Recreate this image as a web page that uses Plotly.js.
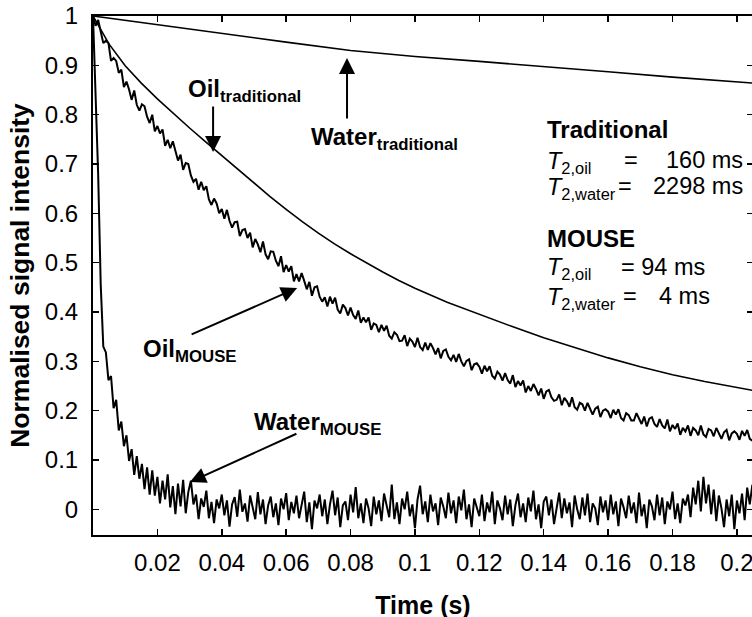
<!DOCTYPE html>
<html><head><meta charset="utf-8">
<script src="https://cdn.plot.ly/plotly-3.0.1.min.js"></script>
<style>html,body{margin:0;padding:0;overflow:hidden;background:#fff}#chart{width:754px;height:619px}</style>
</head><body><div id="chart"></div>
<script>
// ---- axis ticks ----
const xTicks = [0, 0.02, 0.04, 0.06, 0.08, 0.1, 0.12, 0.14, 0.16, 0.18, 0.2];
const xTickLabels = ['', '0.02', '0.04', '0.06', '0.08', '0.1', '0.12', '0.14', '0.16', '0.18', '0.2'];
const yTicks = [0, 0.1, 0.2, 0.3, 0.4, 0.5, 0.6, 0.7, 0.8, 0.9, 1];
const yTickLabels = ['0', '0.1', '0.2', '0.3', '0.4', '0.5', '0.6', '0.7', '0.8', '0.9', '1'];

// ---- traditional (smooth) decays ----
const waterTradTime = [0, 0.02, 0.04, 0.06, 0.08, 0.10, 0.12, 0.14, 0.16, 0.18, 0.20, 0.205];
const waterTraditional = [1.0, 0.982, 0.964, 0.947, 0.930, 0.918, 0.908, 0.898, 0.887, 0.876, 0.867, 0.864];
const oilTradTime = [0, 0.005, 0.01, 0.015, 0.02, 0.025, 0.03, 0.035, 0.04, 0.045, 0.05, 0.055, 0.06, 0.065, 0.07, 0.075, 0.08, 0.085, 0.09, 0.095, 0.10, 0.11, 0.12, 0.13, 0.14, 0.15, 0.16, 0.17, 0.18, 0.19, 0.20, 0.205];
const oilTraditional = [1.0, 0.943, 0.899, 0.864, 0.832, 0.802, 0.773, 0.745, 0.717, 0.689, 0.661, 0.634, 0.608, 0.583, 0.560, 0.538, 0.518, 0.499, 0.481, 0.464, 0.448, 0.420, 0.395, 0.371, 0.348, 0.327, 0.307, 0.289, 0.273, 0.259, 0.247, 0.241];

// ---- MOUSE (noisy) decays, sampled every echoStep seconds ----
const echoStep = 0.0008;
const oilMouse = [
1.000, 0.980, 0.992, 0.965, 0.945, 0.950, 0.945, 0.909, 0.915, 0.909,
0.885, 0.891, 0.856, 0.867, 0.851, 0.830, 0.849, 0.820, 0.808, 0.821,
0.817, 0.796, 0.783, 0.800, 0.766, 0.777, 0.762, 0.770, 0.737, 0.749,
0.732, 0.746, 0.727, 0.707, 0.719, 0.688, 0.702, 0.700, 0.677, 0.664,
0.670, 0.648, 0.664, 0.647, 0.655, 0.628, 0.617, 0.630, 0.620, 0.600,
0.609, 0.589, 0.607, 0.585, 0.571, 0.582, 0.583, 0.554, 0.566, 0.568,
0.550, 0.561, 0.531, 0.548, 0.537, 0.521, 0.543, 0.517, 0.507, 0.523,
0.522, 0.504, 0.493, 0.513, 0.481, 0.495, 0.482, 0.493, 0.462, 0.477,
0.462, 0.479, 0.463, 0.446, 0.461, 0.433, 0.450, 0.452, 0.431, 0.421,
0.430, 0.411, 0.431, 0.417, 0.429, 0.405, 0.397, 0.415, 0.408, 0.393,
0.409, 0.394, 0.386, 0.403, 0.378, 0.389, 0.379, 0.389, 0.364, 0.377,
0.374, 0.359, 0.374, 0.362, 0.372, 0.352, 0.346, 0.359, 0.354, 0.341,
0.342, 0.353, 0.331, 0.346, 0.340, 0.329, 0.348, 0.329, 0.323, 0.338,
0.323, 0.337, 0.327, 0.314, 0.327, 0.306, 0.321, 0.324, 0.309, 0.302,
0.313, 0.299, 0.315, 0.300, 0.290, 0.301, 0.304, 0.282, 0.294, 0.296,
0.289, 0.275, 0.291, 0.280, 0.290, 0.271, 0.265, 0.279, 0.273, 0.261,
0.276, 0.262, 0.255, 0.272, 0.248, 0.260, 0.251, 0.261, 0.237, 0.250,
0.240, 0.254, 0.244, 0.231, 0.245, 0.224, 0.239, 0.242, 0.227, 0.220,
0.222, 0.233, 0.211, 0.226, 0.219, 0.208, 0.227, 0.207, 0.202, 0.216,
0.213, 0.200, 0.216, 0.202, 0.192, 0.204, 0.208, 0.187, 0.200, 0.203,
0.198, 0.185, 0.202, 0.192, 0.203, 0.185, 0.180, 0.195, 0.191, 0.180,
0.180, 0.195, 0.185, 0.173, 0.188, 0.168, 0.184, 0.187, 0.173, 0.167,
0.183, 0.170, 0.164, 0.182, 0.158, 0.171, 0.163, 0.174, 0.151, 0.165,
0.158, 0.170, 0.149, 0.165, 0.160, 0.150, 0.170, 0.152, 0.147, 0.163,
0.160, 0.148, 0.165, 0.152, 0.143, 0.156, 0.161, 0.140, 0.154, 0.158,
0.153, 0.141, 0.159, 0.149, 0.161, 0.143, 0.139
];
const waterMouse = [
1.000, 0.830, 0.680, 0.455, 0.330, 0.318, 0.262, 0.270, 0.205, 0.222,
0.160, 0.178, 0.128, 0.150, 0.098, 0.122, 0.070, 0.108, 0.062, 0.092,
0.041, 0.085, 0.030, 0.079, 0.028, 0.066, 0.012, 0.058, 0.020, 0.071,
0.004, 0.047, -0.010, 0.052, 0.006, 0.060, -0.008, 0.035, 0.058, 0.010,
0.030, -0.020, 0.022, 0.005, 0.038, -0.018, 0.015, -0.028, 0.020, 0.002,
0.030, -0.012, 0.018, -0.035, 0.010, 0.025, -0.015, 0.040, -0.005, 0.012,
-0.025, 0.028, 0.004, -0.020, 0.035, -0.010, 0.020, -0.030, 0.008, 0.026,
-0.016, 0.012, -0.032, 0.022, 0.000, 0.033, -0.022, 0.015, -0.008, 0.028,
-0.018, 0.006, 0.036, -0.026, 0.014, -0.040, 0.018, 0.002, 0.030, -0.014,
0.020, -0.030, 0.010, 0.038, -0.012, 0.024, -0.036, 0.008, 0.016, -0.022,
0.030, -0.006, 0.045, -0.018, 0.012, -0.028, 0.022, 0.002, -0.034, 0.026,
-0.010, 0.018, -0.024, 0.032, 0.004, -0.016, 0.050, -0.020, 0.014, -0.030,
0.022, 0.000, 0.036, -0.014, 0.010, -0.038, 0.020, 0.048, -0.010, 0.016,
-0.026, 0.030, -0.004, 0.012, -0.032, 0.024, 0.006, -0.018, 0.034, -0.008,
0.018, -0.028, 0.026, -0.002, 0.040, -0.020, 0.010, -0.036, 0.022, 0.004,
-0.014, 0.030, -0.024, 0.014, -0.006, 0.036, -0.030, 0.018, 0.002, -0.022,
0.028, -0.010, 0.020, -0.034, 0.008, 0.032, -0.016, 0.012, -0.026, 0.024,
-0.004, 0.038, -0.020, 0.010, -0.038, 0.016, 0.026, -0.012, 0.020, -0.030,
0.006, 0.034, -0.018, 0.022, -0.008, 0.014, -0.036, 0.028, 0.000, -0.020,
0.024, -0.012, 0.032, -0.026, 0.012, 0.002, -0.032, 0.026, -0.006, 0.018,
-0.022, 0.030, -0.010, 0.016, -0.034, 0.022, 0.004, -0.018, 0.028, -0.008,
0.014, -0.028, 0.034, -0.014, 0.010, -0.038, 0.020, 0.006, -0.022, 0.030,
-0.012, 0.024, -0.030, 0.016, 0.000, 0.036, -0.020, 0.012, -0.028, 0.022,
0.008, 0.030, -0.016, 0.044, 0.010, 0.058, -0.004, 0.066, 0.012, 0.050,
-0.010, 0.040, -0.024, 0.028, 0.002, -0.036, 0.020, -0.014, 0.030, -0.040,
0.018, -0.008, 0.032, -0.022, 0.044, 0.010, 0.050
];

const FONT = 'Liberation Sans, Arial, Helvetica, sans-serif';
const black = '#000000';

const traces = [
  {x: waterTradTime, y: waterTraditional, mode: 'lines', line: {color: black, width: 1.6}},
  {x: oilTradTime, y: oilTraditional, mode: 'lines', line: {color: black, width: 1.6}},
  {x0: 0, dx: echoStep, y: oilMouse, mode: 'lines', line: {color: black, width: 2}},
  {x0: 0, dx: echoStep, y: waterMouse, mode: 'lines', line: {color: black, width: 2}}
];

const regF = {family: FONT, size: 23.5, color: black};
const boldF = {family: FONT, size: 24, color: black};
function label(text, x, y, opts) {
  return Object.assign({text: text, x: x, y: y, xref: 'x', yref: 'y', showarrow: false,
    xanchor: 'left', yanchor: 'middle', font: regF}, opts || {});
}
function arrow(x, y, ax, ay) {
  return {text: '', x: x, y: y, xref: 'x', yref: 'y', showarrow: true, ax: ax, ay: ay,
    arrowhead: 2, arrowsize: 1.6, arrowwidth: 2, arrowcolor: black};
}

const annotations = [
  label('<b>Oil<sub>traditional</sub></b>', 0.0288, 0.850, {font: boldF}),
  label('<b>Water<sub>traditional</sub></b>', 0.0670, 0.7527, {font: boldF}),
  label('<b>Oil<sub>MOUSE</sub></b>', 0.0150, 0.3229, {font: boldF}),
  label('<b>Water<sub>MOUSE</sub></b>', 0.0493, 0.175, {font: boldF}),
  arrow(0.0373, 0.7243, 0, -47),
  arrow(0.0789, 0.9149, 0, 62),
  arrow(0.0634, 0.4486, -107, 47),
  arrow(0.0301, 0.0553, 108, -49),
  label('<b>Traditional</b>', 0.1405, 0.769, {font: boldF}),
  label('<i>T</i><sub>2,oil</sub>', 0.1405, 0.704),
  label('=', 0.1671, 0.708, {xanchor: 'center'}),
  label('160 ms', 0.2025, 0.708, {xanchor: 'right'}),
  label('<i>T</i><sub>2,water</sub>', 0.1405, 0.651),
  label('=', 0.1652, 0.6554, {xanchor: 'center'}),
  label('2298 ms', 0.2025, 0.6554, {xanchor: 'right'}),
  label('<b>MOUSE</b>', 0.1405, 0.550, {font: boldF}),
  label('<i>T</i><sub>2,oil</sub>', 0.1405, 0.4872),
  label('= 94 ms', 0.1635, 0.4912),
  label('<i>T</i><sub>2,water</sub>', 0.1405, 0.4284),
  label('=', 0.1668, 0.4324, {xanchor: 'center'}),
  label('4 ms', 0.1753, 0.4324)
];

const axisCommon = {
  showgrid: false, zeroline: false, showline: true, linecolor: black, linewidth: 2,
  mirror: 'ticks', ticks: 'inside', ticklen: 6, tickwidth: 1.5, tickcolor: black,
  tickfont: {family: FONT, size: 24, color: black}, ticklabeloverflow: 'allow'
};

const layout = {
  width: 754, height: 619,
  margin: {l: 93, r: 1, t: 16, b: 84},
  paper_bgcolor: '#ffffff', plot_bgcolor: '#ffffff',
  showlegend: false,
  xaxis: Object.assign({}, axisCommon, {
    range: [0, 0.205], tickvals: xTicks, ticktext: xTickLabels, ticklabelstandoff: 5,
    title: {text: '<b>Time (s)</b>', font: {family: FONT, size: 25, color: black}, standoff: 34}
  }),
  yaxis: Object.assign({}, axisCommon, {
    range: [-0.052, 1.0], tickvals: yTicks, ticktext: yTickLabels, ticklabelstandoff: 8,
    title: {text: '<b>Normalised signal intensity</b>', font: {family: FONT, size: 26.5, color: black}, standoff: 8}
  }),
  annotations: annotations
};

Plotly.newPlot('chart', traces, layout, {staticPlot: true, displayModeBar: false});
</script>
</body></html>
